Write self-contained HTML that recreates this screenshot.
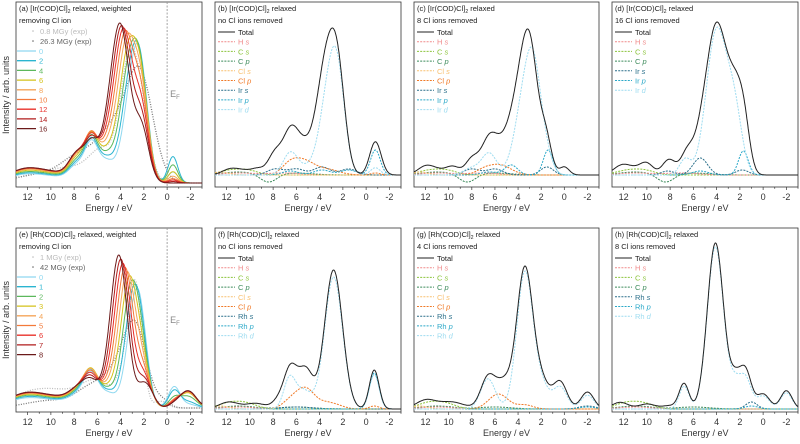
<!DOCTYPE html>
<html><head><meta charset="utf-8"><style>
html,body{margin:0;padding:0;background:#fff;width:800px;height:444px;overflow:hidden}
svg{display:block;font-family:"Liberation Sans",Arial,sans-serif}
</style></head><body>
<svg id="s" width="800" height="444" xmlns="http://www.w3.org/2000/svg"></svg>
<script>
const S=document.getElementById('s');let out='';
function add(h){out+=h;}
const TOP={y0:2,y1:187},BOT={y0:228,y1:412};
const WF=1.4;
function xm(p,E){return p.x0+(13-E)*(p.x1-p.x0)/16;}
function curve(p,base,gs,target,col,dash,w){
  let pts=[];let mx=0;let vals=[];
  for(let E=13;E>=-3.001;E-=0.04){let v=0;for(const g of gs){const s=g[2]*WF;v+=g[1]*Math.exp(-((E-g[0])**2)/(2*s*s));}vals.push([E,v]);if(v>mx)mx=v;}
  const k=target?target/mx:1;
  for(const [E,v] of vals)pts.push(xm(p,E).toFixed(1)+','+(base-v*k).toFixed(1));
  add(`<polyline points="${pts.join(' ')}" fill="none" stroke="${col}" stroke-width="${w||0.9}" ${dash?`stroke-dasharray="${dash}"`:''}/>`);
}
function frame(p,row){
  const {y0,y1}=row;
  add(`<rect x="${p.x0}" y="${y0}" width="${p.x1-p.x0}" height="${y1-y0}" fill="none" stroke="#333" stroke-width="0.8"/>`);
  for(let E=12;E>=-3;E--){const x=xm(p,E);const L=(E%2==0)?3:1.8;add(`<line x1="${x}" y1="${y1}" x2="${x}" y2="${y1+L}" stroke="#333" stroke-width="0.7"/>`);
    if(E%2==0)add(`<text x="${x}" y="${y1+13}" font-size="9" text-anchor="middle" fill="#333">${E<0?'-'+(-E):E}</text>`);}
  add(`<text x="${(p.x0+p.x1)/2}" y="${y1+24}" font-size="9" text-anchor="middle" fill="#333">Energy / eV</text>`);
}
function txt(x,y,s,c,fs){add(`<text x="${x}" y="${y}" font-size="${fs||7.5}" fill="${c||'#222'}">${s}</text>`);}
const fam1=['#8fd8f0','#2bb5d0','#5cb85c','#d4c21a','#f5a55a','#f37a3a','#e8302a','#b01c1c','#6b1a1a'];
function famPanel(p,row,base,labels,exp,ttl,rh){
  frame(p,row);
  const y0=row.y0;
  const xe=xm(p,0);
  add(`<line x1="${xe}" y1="${y0}" x2="${xe}" y2="${row.y1}" stroke="#999" stroke-dasharray="2,1.5" stroke-width="0.9"/>`);
  add(`<text x="${xe+3}" y="${y0+95}" font-size="9" fill="#888">E<tspan font-size="6" dy="2">F</tspan></text>`);
  for(const e of exp)curve(p,base,e.g,e.t,e.c,'1,1.5',1.3);
  for(let i=0;i<9;i++){const t=i/8;
    let g;
    if(!rh){g=[[3.0+1.0*t,100,0.55],[2.2,80-45*t,0.45],[6.5,38-18*t,0.4],[5.2,22,0.5],[7.7,16,0.5],[10,7,1.5],[12.5,6,1],[-0.5,[12,26,16,9,5,3,2,1,0][i],0.3]];
      curve(p,base,g,140+20*t,fam1[i],null,1);}
    else{g=[[2.8+1.3*t,100,0.5],[2.2,40-30*t,0.4],[6.5,30-18*t,0.45],[5.0,14,0.5],[7.5,10,0.6],[10,8,1.6],[12.5,6,1],[-0.6,[22,16,8,4,4,4,3,2,2][i],0.35],[-1.8,[4,6,10,12,12,12,12,12,12][i],0.5],[1.6,4+6*t,0.4]];
      curve(p,base,g,120+33*t,fam1[i],null,1);}
  }
  txt(p.x0+3,y0+9,ttl[0]);txt(p.x0+3,y0+21,ttl[1]);
  add(`<circle cx="${p.x0+17}" cy="${y0+29}" r="0.8" fill="#bbb"/><circle cx="${p.x0+17}" cy="${y0+39}" r="0.8" fill="#666"/>`);
  txt(p.x0+24,y0+32,labels[0],'#bbb');txt(p.x0+24,y0+42,labels[1],'#666');
  for(let i=0;i<9;i++){const y=y0+49+i*9.7;add(`<line x1="${p.x0+1}" y1="${y}" x2="${p.x0+20}" y2="${y}" stroke="${fam1[i]}" stroke-width="1.3"/>`);txt(p.x0+23,y+3,labels[2+i],fam1[i]);}
}
famPanel({x0:16,x1:202},TOP,183,['0.8 MGy (exp)','26.3 MGy (exp)','0','2','4','6','8','10','12','14','16'],
 [{g:[[2.6,100,0.6],[3.6,60,0.5],[5.5,30,0.8],[8,12,1.2],[11,8,1.5]],t:135,c:'#bbb'},
  {g:[[2.3,100,0.8],[4.5,50,1.0],[7.5,25,1.1],[11,8,1.5]],t:117,c:'#777'}],
 ['(a) [Ir(COD)Cl]<tspan font-size="5" dy="2">2</tspan><tspan dy="-2"> relaxed, weighted</tspan>','removing Cl ion'],false);
famPanel({x0:16,x1:202},BOT,408,['1 MGy (exp)','42 MGy (exp)','0','1','2','3','4','5','6','7','8'],
 [{g:[[2.7,100,0.4],[3.6,30,0.5],[6,20,0.9],[9,14,1.5],[12,10,1.2],[0.5,6,0.4]],t:128,c:'#bbb'},
  {g:[[2.7,100,0.7],[4.3,40,0.8],[6.5,25,0.9],[10,10,1.5],[0.3,8,0.4]],t:88,c:'#777'}],
 ['(e) [Rh(COD)Cl]<tspan font-size="5" dy="2">2</tspan><tspan dy="-2"> relaxed, weighted</tspan>','removing Cl ion'],true);
add(`<text transform="translate(9,95) rotate(-90)" font-size="9" text-anchor="middle" fill="#333">Intensity / arb. units</text>`);
add(`<text transform="translate(9,320) rotate(-90)" font-size="9" text-anchor="middle" fill="#333">Intensity / arb. units</text>`);
const C={H:'#f08a8a',Cs:'#8cc43c',Cp:'#3b8a5a',Cls:'#f8c070',Clp:'#f07a28',Ms:'#2a6f8a',Mp:'#2aa8c8',Md:'#9edcf0',T:'#222'};
function pdos(p,row,base,ttl,leg,series){
  frame(p,row);const y0=row.y0;
  for(const s of series)curve(p,base,s.g,s.t,C[s.k],s.k=='T'?null:'2,1.2',1);
  txt(p.x0+3,y0+9,ttl[0]);txt(p.x0+3,y0+21,ttl[1]);
  leg.forEach((l,i)=>{const y=y0+30+i*9.7;add(`<line x1="${p.x0+3}" y1="${y}" x2="${p.x0+20}" y2="${y}" stroke="${C[l[0]]}" stroke-width="1" ${l[0]=='T'?'':'stroke-dasharray="2,1.2"'}/>`);
    add(`<text x="${p.x0+23}" y="${y+3}" font-size="7.5" fill="${l[0]=='T'?'#222':C[l[0]]}">${l[1]}${l[2]?' <tspan font-style="italic">'+l[2]+'</tspan>':''}</text>`);});
}
const legIr=[['T','Total'],['H','H','s'],['Cs','C','s'],['Cp','C','p'],['Cls','Cl','s'],['Clp','Cl','p'],['Ms','Ir','s'],['Mp','Ir','p'],['Md','Ir','d']];
const legIr2=[['T','Total'],['H','H','s'],['Cs','C','s'],['Cp','C','p'],['Ms','Ir','s'],['Mp','Ir','p'],['Md','Ir','d']];
const legRh=legIr.map(l=>l[1]=='Ir'?[l[0],'Rh',l[2]]:l);
const legRh2=legIr2.map(l=>l[1]=='Ir'?[l[0],'Rh',l[2]]:l);
const sub='<tspan font-size="5" dy="2">2</tspan><tspan dy="-2"> relaxed</tspan>';
const smallIr=[{k:'Cp',g:[[8.4,-8,0.5],[11,3,1],[6,2,1]]},{k:'Cs',g:[[11.5,5,0.8],[10,3,0.6]]},{k:'H',g:[[11,2,1],[7,2,1]]}];
pdos({x0:215,x1:401},TOP,175,['(b) [Ir(COD)Cl]'+sub,'no Cl ions removed'],legIr,[
 ...smallIr,{k:'Cls',g:[[12.5,3,0.5]]},
 {k:'Ms',g:[[7.8,6,0.5],[6,6,0.5],[3.8,8,0.5],[1.5,6,0.5]]},
 {k:'Clp',g:[[5.4,14,0.7],[6.6,8,0.5],[3.2,5,0.7],[-0.8,2,0.3]]},
 {k:'Mp',g:[[-0.8,25,0.3],[1.5,5,0.5],[6.5,4,0.5],[3.8,5,0.5]]},
 {k:'Md',g:[[3.2,100,0.55],[2.4,88,0.45],[6.5,28,0.45],[5,8,0.5],[-0.8,9,0.3]],t:129},
 {k:'T',g:[[3.3,100,0.5],[2.4,90,0.45],[6.5,45,0.5],[5.0,30,0.6],[7.9,20,0.4],[9.3,6,0.4],[11.7,6,0.5],[10.5,4,0.5],[-0.8,35,0.35],[4.0,20,0.4]],t:147}]);
pdos({x0:414,x1:599},TOP,175,['(c) [Ir(COD)Cl]'+sub,'8 Cl ions removed'],legIr,[
 ...smallIr,{k:'Cls',g:[[12.5,3,0.5]]},
 {k:'Ms',g:[[8,6,0.5],[6,6,0.5],[1.5,8,0.4]]},
 {k:'Clp',g:[[5.6,10,0.7],[7,4,0.5]]},
 {k:'Mp',g:[[1.4,25,0.3],[4.6,10,0.4],[6.5,3,0.5]]},
 {k:'Md',g:[[3.4,90,0.6],[2.6,80,0.45],[6.5,25,0.45],[8,8,0.5],[1.6,20,0.4]],t:128},
 {k:'T',g:[[3.5,90,0.5],[2.8,90,0.45],[1.6,40,0.35],[6.5,38,0.5],[5.2,25,0.6],[8,17,0.4],[9.6,8,0.4],[12,9,0.5],[10.8,5,0.6],[0,9,0.3],[4.4,30,0.5]],t:146}]);
pdos({x0:612,x1:798},TOP,175,['(d) [Ir(COD)Cl]'+sub,'16 Cl ions removed'],legIr2,[
 ...smallIr,
 {k:'Ms',g:[[5.4,17,0.45],[1.8,5,0.4],[8.2,4,0.4]]},
 {k:'Mp',g:[[1.7,24,0.3],[5.4,4,0.5]]},
 {k:'Md',g:[[4.1,100,0.6],[2.4,40,0.45],[6.7,12,0.35],[3.2,20,0.5]],t:148},
 {k:'T',g:[[4.1,100,0.6],[2.3,45,0.45],[1.6,25,0.35],[6.5,17,0.4],[5.4,15,0.4],[3.1,20,0.5],[8.1,11,0.4],[10,7,0.4],[12.2,6,0.5],[11,4,0.6]],t:153}]);
const smallRh=[{k:'Cp',g:[[11,3,1],[6,2,1]]},{k:'Cs',g:[[11.5,7,0.8],[10,3,0.6]]},{k:'H',g:[[11,2,1]]}];
pdos({x0:215,x1:401},BOT,409,['(f)  [Rh(COD)Cl]'+sub,'no Cl ions removed'],legRh,[
 ...smallRh,{k:'Cls',g:[[12.5,3,0.5]]},{k:'Ms',g:[[6,2,1]]},
 {k:'Clp',g:[[5.2,20,0.55],[6.5,8,0.5],[3.5,5,0.5],[2.5,3,0.5],[-0.7,3,0.3]]},
 {k:'Mp',g:[[-0.7,36,0.3]]},
 {k:'Md',g:[[2.8,100,0.55],[6.6,22,0.35],[5.4,14,0.5],[-0.7,26,0.3]],t:132},
 {k:'T',g:[[2.8,100,0.55],[6.5,28,0.4],[5.2,28,0.45],[7.5,6,0.4],[9.5,4,0.6],[11.8,5,0.6],[-0.7,28,0.3]],t:139}]);
pdos({x0:414,x1:599},BOT,409,['(g) [Rh(COD)Cl]'+sub,'4 Cl ions removed'],legRh,[
 ...smallRh,{k:'Cls',g:[[12.5,3,0.5]]},{k:'Ms',g:[[-2,3,0.5]]},
 {k:'Clp',g:[[5.7,15,0.6],[3.4,4,0.5]]},
 {k:'Mp',g:[[-2,2,0.5]]},
 {k:'Md',g:[[3.4,100,0.5],[6.6,22,0.45],[2,12,0.4],[0.3,12,0.4],[-2,10,0.4],[1,6,0.6]],t:138},
 {k:'T',g:[[3.4,100,0.5],[6.6,22,0.45],[5.2,18,0.5],[2,13,0.4],[0.3,14,0.4],[-2,12,0.4],[1,8,0.6],[9.8,5,0.8],[12,6,0.6]],t:143}]);
pdos({x0:612,x1:798},BOT,409,['(h) [Rh(COD)Cl]'+sub,'8 Cl ions removed'],legRh2,[
 ...smallRh,{k:'Ms',g:[[1,7,0.35]]},{k:'Mp',g:[[1,3,0.4]]},
 {k:'Md',g:[[4.1,100,0.5],[2.4,14,0.35],[1.5,18,0.35],[6.8,14,0.3],[0,8,0.4],[-2,10,0.35]],t:162},
 {k:'T',g:[[4.1,100,0.5],[2.4,16,0.35],[1.5,22,0.35],[6.8,15,0.3],[0,9,0.4],[-2,11,0.35],[12.3,4,0.5],[10,3,0.5],[8,2,0.5]],t:166}]);
S.innerHTML=out;
</script>
</body></html>
